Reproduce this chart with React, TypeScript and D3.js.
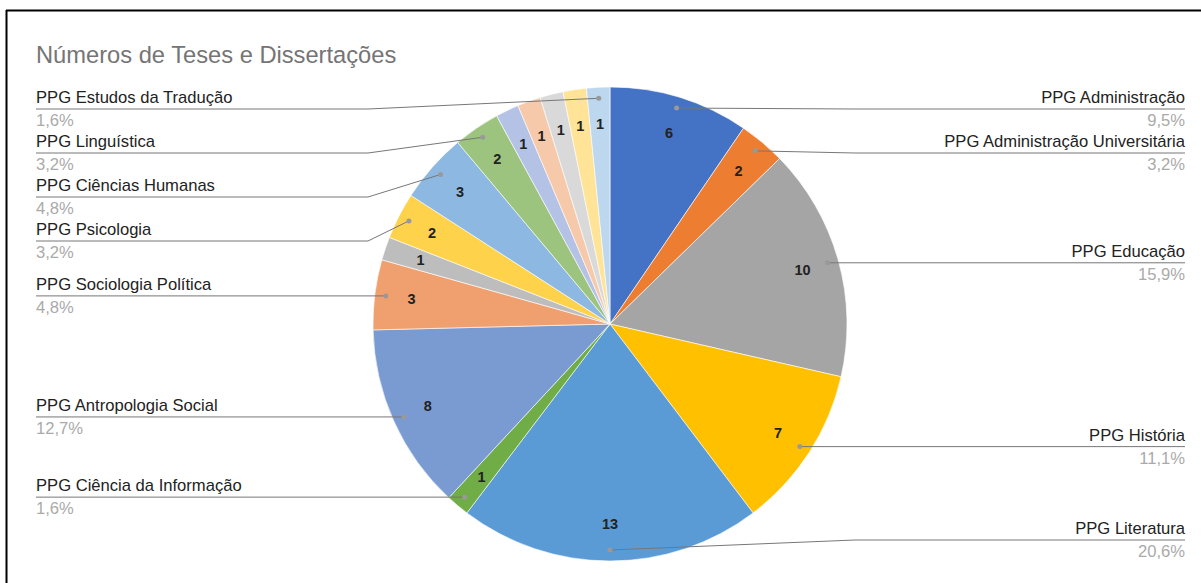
import React from "react";
import * as d3 from "d3";

const title = "Números de Teses e Dissertações";
const categories = [
  "PPG Administração",
  "PPG Administração Universitária",
  "PPG Educação",
  "PPG História",
  "PPG Literatura",
  "PPG Ciência da Informação",
  "PPG Antropologia Social",
  "PPG Sociologia Política",
  "PPG Outro 1",
  "PPG Psicologia",
  "PPG Ciências Humanas",
  "PPG Linguística",
  "PPG Outro 2",
  "PPG Outro 3",
  "PPG Outro 4",
  "PPG Outro 5",
  "PPG Estudos da Tradução",
];
const values = [6, 2, 10, 7, 13, 1, 8, 3, 1, 2, 3, 2, 1, 1, 1, 1, 1];
const labeled = [true, true, true, true, true, true, true, true, false, true, true, true, false, false, false, false, true];
const colors = [
  "#4472C4", "#ED7D31", "#A5A5A5", "#FFC000", "#5B9BD5", "#70AD47",
  "#7A9BD2", "#F0A06F", "#BDBDBD", "#FFD24C", "#8DB8E2", "#9DC47F",
  "#B4C2E6", "#F7C9AB", "#D9D9D9", "#FFE497", "#BCD7EE",
];

const W = 1201, H = 583;
const cx = 610, cy = 324, R = 237;
const FONT = "'Liberation Sans', Arial, sans-serif";

export default function App() {
  const total = d3.sum(values);
  const pie = d3.pie<number>().sort(null).value((d) => d)(values);
  const arc = d3.arc<d3.PieArcDatum<number>>().innerRadius(0).outerRadius(R);
  const fmt = (v: number) => ((v / total) * 100).toFixed(1).replace(".", ",") + "%";

  const pointAt = (a: number, r: number) => [cx + r * Math.sin(a), cy - r * Math.cos(a)];

  type Lab = { i: number; dot: number[]; y: number; side: "L" | "R" };
  const labs: Lab[] = [];
  pie.forEach((p, i) => {
    if (!labeled[i]) return;
    const mid = (p.startAngle + p.endAngle) / 2;
    const dot = pointAt(mid, 226);
    labs.push({ i, dot, y: dot[1], side: dot[0] < cx ? "L" : "R" });
  });
  const layout = (side: "L" | "R") => {
    const g = labs.filter((l) => l.side === side).sort((a, b) => a.dot[1] - b.dot[1]);
    let prev = -Infinity;
    g.forEach((l) => {
      l.y = Math.max(l.dot[1], prev + 44, 109);
      prev = l.y;
    });
    let next = Infinity;
    for (let k = g.length - 1; k >= 0; k--) {
      g[k].y = Math.min(g[k].y, next - 44, 540);
      next = g[k].y;
    }
  };
  layout("L");
  layout("R");

  return (
    <svg width={W} height={H} style={{ position: "absolute", left: 0, top: 0 }} fontFamily={FONT}>
      <rect width={W} height={H} fill="#fff" />
      <line x1={6} y1={10.5} x2={W} y2={10.5} stroke="#000" strokeWidth={2} />
      <line x1={6.5} y1={10} x2={6.5} y2={H} stroke="#000" strokeWidth={2} />
      <text x={36} y={63} fontSize={23.7} fill="#757575">{title}</text>
      <g transform={`translate(${cx},${cy})`}>
        {pie.map((p, i) => (
          <path key={i} d={arc(p) || ""} fill={colors[i]} stroke="#fff" strokeWidth={0.6} />
        ))}
        {pie.map((p, i) => {
          const mid = (p.startAngle + p.endAngle) / 2;
          const r = 200;
          return (
            <text key={"v" + i} x={r * Math.sin(mid)} y={-r * Math.cos(mid)} dy="0.35em"
              textAnchor="middle" fontSize={14.5} fontWeight="bold" fill="#222">
              {values[i]}
            </text>
          );
        })}
      </g>
      {labs.map((l) => {
        const isL = l.side === "L";
        let pts: number[][];
        if (isL) {
          pts = Math.abs(l.y - l.dot[1]) < 0.5 ? [[36, l.y], l.dot] : [[36, l.y], [368, l.y], l.dot];
        } else {
          pts = Math.abs(l.y - l.dot[1]) < 0.5 ? [l.dot, [1185, l.y]] : [l.dot, [855, l.y], [1185, l.y]];
        }
        const tx = isL ? 36 : 1185;
        const anchor = isL ? "start" : "end";
        return (
          <g key={"l" + l.i}>
            <path d={d3.line()(pts as [number, number][]) || ""} fill="none" stroke="#777" strokeWidth={1} />
            <circle cx={l.dot[0]} cy={l.dot[1]} r={2.5} fill="#999" />
            <text x={tx} y={l.y - 6} fontSize={16.6} fill="#222" textAnchor={anchor}>{categories[l.i]}</text>
            <text x={tx} y={l.y + 17} fontSize={16.6} fill="#aaa" textAnchor={anchor}>{fmt(values[l.i])}</text>
          </g>
        );
      })}
    </svg>
  );
}
